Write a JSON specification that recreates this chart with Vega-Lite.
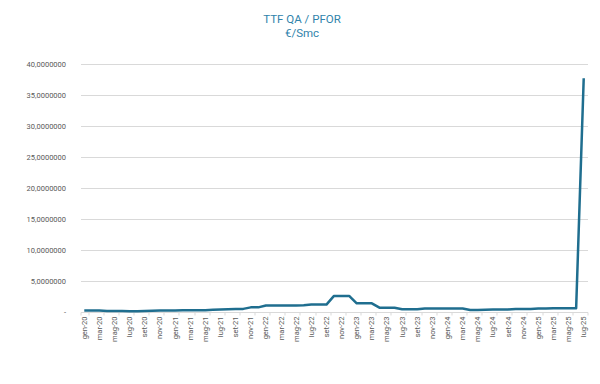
{
  "$schema": "https://vega.github.io/schema/vega-lite/v6.json",
  "width": 507,
  "height": 248,
  "autosize": {"type": "none"},
  "padding": {"left": 80.5, "top": 64, "right": 12.5, "bottom": 72},
  "background": "white",
  "title": {
    "text": ["TTF QA / PFOR", "€/Smc"],
    "font": "Roboto",
    "fontSize": 11.5,
    "fontWeight": "normal",
    "color": "#3083AB",
    "lineHeight": 13.5,
    "frame": "group",
    "anchor": "middle",
    "dx": -32,
    "offset": 21
  },
  "data": {
    "values": [
      {"m": "gen-20", "v": 0.25}, {"m": "feb-20", "v": 0.25}, {"m": "mar-20", "v": 0.25},
      {"m": "apr-20", "v": 0.18}, {"m": "mag-20", "v": 0.15}, {"m": "giu-20", "v": 0.15},
      {"m": "lug-20", "v": 0.12}, {"m": "ago-20", "v": 0.12}, {"m": "set-20", "v": 0.15},
      {"m": "ott-20", "v": 0.2}, {"m": "nov-20", "v": 0.25}, {"m": "dic-20", "v": 0.25},
      {"m": "gen-21", "v": 0.25}, {"m": "feb-21", "v": 0.28}, {"m": "mar-21", "v": 0.3},
      {"m": "apr-21", "v": 0.3}, {"m": "mag-21", "v": 0.3}, {"m": "giu-21", "v": 0.35},
      {"m": "lug-21", "v": 0.4}, {"m": "ago-21", "v": 0.45}, {"m": "set-21", "v": 0.5},
      {"m": "ott-21", "v": 0.5}, {"m": "nov-21", "v": 0.75}, {"m": "dic-21", "v": 0.75},
      {"m": "gen-22", "v": 1.05}, {"m": "feb-22", "v": 1.05}, {"m": "mar-22", "v": 1.05},
      {"m": "apr-22", "v": 1.05}, {"m": "mag-22", "v": 1.05}, {"m": "giu-22", "v": 1.1},
      {"m": "lug-22", "v": 1.2}, {"m": "ago-22", "v": 1.2}, {"m": "set-22", "v": 1.2},
      {"m": "ott-22", "v": 2.6}, {"m": "nov-22", "v": 2.6}, {"m": "dic-22", "v": 2.6},
      {"m": "gen-23", "v": 1.4}, {"m": "feb-23", "v": 1.4}, {"m": "mar-23", "v": 1.4},
      {"m": "apr-23", "v": 0.7}, {"m": "mag-23", "v": 0.7}, {"m": "giu-23", "v": 0.7},
      {"m": "lug-23", "v": 0.45}, {"m": "ago-23", "v": 0.45}, {"m": "set-23", "v": 0.45},
      {"m": "ott-23", "v": 0.58}, {"m": "nov-23", "v": 0.58}, {"m": "dic-23", "v": 0.58},
      {"m": "gen-24", "v": 0.58}, {"m": "feb-24", "v": 0.58}, {"m": "mar-24", "v": 0.58},
      {"m": "apr-24", "v": 0.32}, {"m": "mag-24", "v": 0.32}, {"m": "giu-24", "v": 0.35},
      {"m": "lug-24", "v": 0.4}, {"m": "ago-24", "v": 0.4}, {"m": "set-24", "v": 0.4},
      {"m": "ott-24", "v": 0.5}, {"m": "nov-24", "v": 0.5}, {"m": "dic-24", "v": 0.5},
      {"m": "gen-25", "v": 0.55}, {"m": "feb-25", "v": 0.55}, {"m": "mar-25", "v": 0.6},
      {"m": "apr-25", "v": 0.6}, {"m": "mag-25", "v": 0.6}, {"m": "giu-25", "v": 0.6},
      {"m": "lug-25", "v": 37.7}
    ]
  },
  "mark": {"type": "line", "color": "#1F6E8F", "strokeWidth": 2.5, "strokeJoin": "round"},
  "encoding": {
    "x": {
      "field": "m",
      "type": "ordinal",
      "sort": null,
      "bandPosition": 0.5,
      "scale": {"type": "band", "paddingInner": 0, "paddingOuter": 0},
      "axis": {
        "title": null,
        "values": ["gen-20", "mar-20", "mag-20", "lug-20", "set-20", "nov-20",
                   "gen-21", "mar-21", "mag-21", "lug-21", "set-21", "nov-21",
                   "gen-22", "mar-22", "mag-22", "lug-22", "set-22", "nov-22",
                   "gen-23", "mar-23", "mag-23", "lug-23", "set-23", "nov-23",
                   "gen-24", "mar-24", "mag-24", "lug-24", "set-24", "nov-24",
                   "gen-25", "mar-25", "mag-25", "lug-25"],
        "labelAngle": 270,
        "labelFont": "Roboto",
        "labelFontSize": 7.5,
        "labelColor": "#595959",
        "labelPadding": 1,
        "tickColor": "#D9D9D9",
        "tickSize": 3,
        "tickBand": "extent",
        "domainColor": "#D9D9D9",
        "grid": false
      }
    },
    "y": {
      "field": "v",
      "type": "quantitative",
      "scale": {"domain": [0, 40]},
      "axis": {
        "title": null,
        "values": [0, 5, 10, 15, 20, 25, 30, 35, 40],
        "labelExpr": "datum.value == 0 ? '-' : replace(format(datum.value, '.7f'), '.', ',')",
        "domain": false,
        "ticks": false,
        "tickSize": 0,
        "grid": true,
        "gridColor": "#D9D9D9",
        "labelFont": "Roboto",
        "labelFontSize": 7.5,
        "labelColor": "#595959",
        "labelPadding": 15
      }
    }
  },
  "config": {"view": {"stroke": null}}
}
